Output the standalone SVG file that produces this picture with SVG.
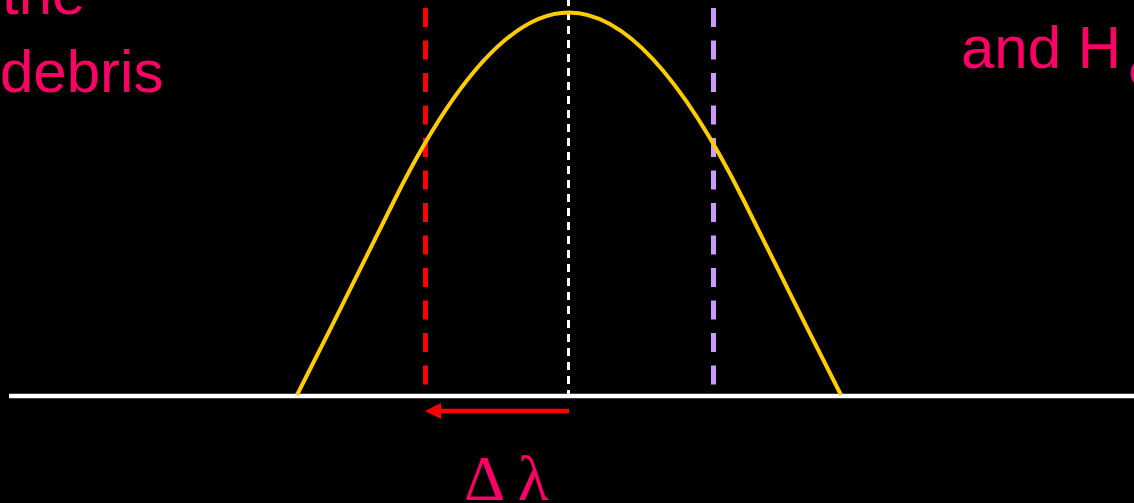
<svg xmlns="http://www.w3.org/2000/svg" width="1134" height="503" viewBox="0 0 1134 503">
  <defs>
    <style>
      .label { fill: #FF0066; font-family: "Liberation Sans", Arial, sans-serif; font-size: 60px; }
      .greek { fill: #FF0066; font-family: "Liberation Serif", "Times New Roman", serif; font-size: 64px; }
      .dash { fill: none; stroke-width: 5; stroke-dasharray: 19 13.5; }
    </style>
    <marker id="arrowhead" markerWidth="16" markerHeight="16" refX="0" refY="8" orient="auto" markerUnits="userSpaceOnUse" viewBox="0 0 16 16">
      <path d="M0,0 L16,8 L0,16 Z" fill="#FF0000"/>
    </marker>
  </defs>
  <rect x="0" y="0" width="1134" height="503" fill="#000000"/>

  <g id="text-left">
    <text class="label" x="2" y="14">the</text>
    <text class="label" x="0" y="92">debris</text>
  </g>
  <g id="text-right">
    <text class="label" x="961" y="68">and H<tspan font-size="40" dx="8" dy="16">α</tspan></text>
  </g>

  <g id="connectors">
    <line id="baseline" x1="9" y1="396" x2="1134" y2="396" stroke="#FFFFFF" stroke-width="4.5"/>
    <line id="center-line" x1="568.5" y1="0" x2="568.5" y2="394" stroke="#FFFFFF" stroke-width="3" stroke-dasharray="8 6" stroke-dashoffset="2"/>
    <line id="red-line" class="dash" x1="425.5" y1="8" x2="425.5" y2="385" stroke="#FF0000"/>
    <line id="purple-line" class="dash" x1="713.5" y1="8" x2="713.5" y2="385" stroke="#CC99FF"/>
    <line id="shift-arrow" x1="569" y1="411" x2="441" y2="411" stroke="#FF0000" stroke-width="4.5" marker-end="url(#arrowhead)"/>
  </g>

  <g id="profile">
    <path d="M297,395 C330,330 370,250 394.5,200 Q488,12.5 569,12.5 Q650,12.5 743.5,200 C768,250 808,330 841,395" fill="none" stroke="#FFCC00" stroke-width="4" stroke-linejoin="round"/>
  </g>

  <g id="delta-lambda">
    <text class="greek" x="464" y="500">Δ λ</text>
  </g>
</svg>
